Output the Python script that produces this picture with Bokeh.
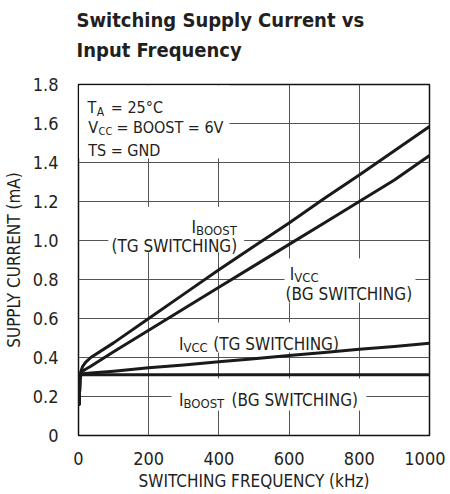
from bokeh.plotting import figure
from bokeh.models import Label, BoxAnnotation, FixedTicker, Range1d, CustomJSTickFormatter, Title
from bokeh.embed import file_html
from bokeh.resources import INLINE

# ---- data ----
freq_khz = [2, 4, 7, 12, 20, 35, 100, 200, 300, 400, 500, 600, 700, 800, 900, 1000]
i_boost_tg = [0.16, 0.29, 0.33, 0.355, 0.375, 0.40, 0.475, 0.60, 0.725, 0.85, 0.97, 1.09, 1.215, 1.336, 1.46, 1.585]
i_vcc_bg = [0.16, 0.29, 0.325, 0.33, 0.34, 0.355, 0.43, 0.54, 0.65, 0.76, 0.87, 0.98, 1.09, 1.20, 1.31, 1.436]
i_vcc_tg = [0.16, 0.29, 0.31, 0.315, 0.318, 0.32, 0.33, 0.347, 0.362, 0.378, 0.394, 0.41, 0.426, 0.442, 0.457, 0.473]
i_boost_bg = [0.16, 0.29, 0.31, 0.312, 0.312, 0.312, 0.312, 0.312, 0.312, 0.312, 0.312, 0.312, 0.312, 0.312, 0.312, 0.312]
x_ticks = [0, 200, 400, 600, 800, 1000]
y_ticks = [0, 0.2, 0.4, 0.6, 0.8, 1.0, 1.2, 1.4, 1.6, 1.8]
title_lines = ["Switching Supply Current vs", "Input Frequency"]

FONT = "DejaVu Sans Condensed"
TXT = "#231f20"
LINE = "#1a1a1a"

p = figure(frame_width=351, frame_height=351,
           min_border_left=69, min_border_right=16, min_border_top=84, min_border_bottom=58,
           x_range=Range1d(0, 1000), y_range=Range1d(0, 1.8),
           output_backend="svg", toolbar_location=None)

# spacer between frame and title, then the two title lines (first added = nearest the frame)
p.add_layout(Title(text=" ", text_font_size="1px", text_color="white", standoff=16), "above")
for text, standoff in ((title_lines[1], 8), (title_lines[0], 0)):
    p.add_layout(Title(text=text, text_font=FONT, text_font_size="20px",
                       text_font_style="bold", text_color=TXT, align="left",
                       standoff=standoff, offset=-2), "above")

p.outline_line_color = "#111111"
p.outline_line_width = 1.5
p.background_fill_color = "white"
p.border_fill_color = "white"

for ax in (p.xaxis[0], p.yaxis[0]):
    ax.axis_line_color = None
    ax.major_tick_line_color = None
    ax.minor_tick_line_color = None
    ax.major_label_text_font = FONT
    ax.major_label_text_font_size = "18px"
    ax.major_label_text_color = TXT
    ax.axis_label_text_font = FONT
    ax.axis_label_text_font_size = "17px"
    ax.axis_label_text_font_style = "normal"
    ax.axis_label_text_color = TXT

p.xaxis.ticker = FixedTicker(ticks=x_ticks)
p.yaxis.ticker = FixedTicker(ticks=y_ticks)
p.yaxis.formatter = CustomJSTickFormatter(code="return tick == 0 ? '0' : tick.toFixed(1);")
p.xaxis.axis_label = "SWITCHING FREQUENCY (kHz)"
p.yaxis.axis_label = "SUPPLY CURRENT (mA)"
p.xaxis.major_label_standoff = 10
p.yaxis.major_label_standoff = 14
p.xaxis.axis_label_standoff = 3
p.yaxis.axis_label_standoff = 6

p.grid.grid_line_color = "#555555"
p.grid.grid_line_width = 1

# white knock-outs behind the labels (interrupt the grid)
knock = [
    (2, 430, 1.42, 1.795),
    (85, 472, 0.94, 1.173),
    (587, 960, 0.682, 0.908),
    (271, 764, 0.426, 0.58),
    (265, 820, 0.128, 0.292),
]
for l, r, b, t in knock:
    p.add_layout(BoxAnnotation(left=l, right=r, bottom=b, top=t, fill_color="white",
                               fill_alpha=1, line_color=None, level="underlay"))

for ys in (i_boost_tg, i_vcc_bg, i_vcc_tg, i_boost_bg):
    p.line(freq_khz, ys, line_color=LINE, line_width=3, line_join="round", line_cap="round")


def lab(x, y, t, size=17):
    p.add_layout(Label(x=x, y=y, text=t, text_font=FONT, text_font_size=f"{size}px",
                       text_color=TXT, text_baseline="alphabetic", text_align="left"))


SUB = 13
# conditions
lab(25.6, 1.680, "T", 16)
lab(52.0, 1.660, "A", 12)
lab(92.0, 1.680, "= 25°C", 16)
lab(27.6, 1.579, "V", 16)
lab(57.0, 1.558, "CC", 11)
lab(108.0, 1.579, "= BOOST = 6V", 16)
lab(27.6, 1.4615, "TS = GND", 16)
# I_BOOST (TG SWITCHING)
lab(322, 1.068, "I")
lab(335, 1.051, "BOOST", SUB)
lab(94, 0.974, "(TG SWITCHING)")
# I_VCC (BG SWITCHING)
lab(602, 0.826, "I")
lab(615, 0.809, "VCC", SUB)
lab(590, 0.727, "(BG SWITCHING)")
# I_VCC (TG SWITCHING)
lab(286, 0.470, "I")
lab(299, 0.453, "VCC", SUB)
lab(384, 0.470, "(TG SWITCHING)")
# I_BOOST (BG SWITCHING)
lab(286, 0.183, "I")
lab(299, 0.166, "BOOST", SUB)
lab(436, 0.183, "(BG SWITCHING)")

open("out.html", "w").write(file_html(p, INLINE))
